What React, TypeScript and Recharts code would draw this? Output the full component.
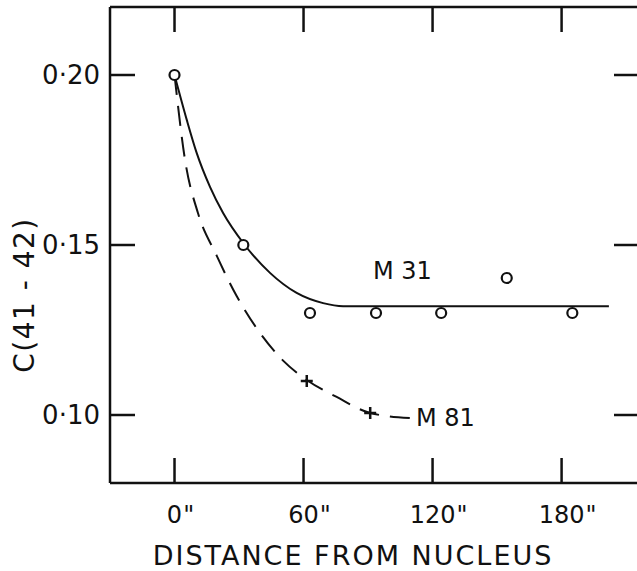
import { ComposedChart, Line, XAxis, YAxis, ReferenceDot } from "recharts"

const FONT = "'DejaVu Sans', sans-serif"
const INK = "#111"
const TICK_LEN = 25

// axis ticks
const xTicks = [0, 60, 120, 180]
const yTicks = [0.1, 0.15, 0.2]

// measured points, M31 (open circles)
const m31Dist = [0, 32, 63, 93.7, 124, 154.5, 185]
const m31Color = [0.2, 0.15, 0.13, 0.13, 0.13, 0.1403, 0.13]

// measured points, M81 (crosses)
const m81Dist = [61.5, 91]
const m81Color = [0.11, 0.1006]

// hand-drawn M31 curve (solid)
const m31FitDist = [0, 5.7, 10.3, 16.5, 22.6, 32.3, 44.4, 56.8, 69.1, 78.4, 202]
const m31FitColor = [0.2, 0.1868, 0.1771, 0.1671, 0.1594, 0.1503, 0.1418, 0.1359, 0.1329, 0.132, 0.132]

// hand-drawn M81 curve (dashed)
const m81FitDist = [0, 4.9, 10.9, 19.5, 28.9, 38.2, 50.5, 61.5, 75.4, 91, 109.5]
const m81FitColor = [0.2, 0.175, 0.1594, 0.147, 0.135, 0.1255, 0.116, 0.1103, 0.1053, 0.1006, 0.0991]

const zip = (xs: number[], ys: number[]) => xs.map((x, i) => ({ x, y: ys[i] }))

const m31Points = zip(m31Dist, m31Color)
const m81Points = zip(m81Dist, m81Color)
const m31Fit = zip(m31FitDist, m31FitColor)
const m81Fit = zip(m81FitDist, m81FitColor)

// ticks point inward on all four sides; the tick renderer draws the mark too
const BottomTick = ({ x, y, payload }: any) => {
  const digits = String(payload.value)
  const half = (digits.length * 0.636 * 24) / 2
  return (
    <g>
      <line x1={x} x2={x} y1={y} y2={y - TICK_LEN} stroke={INK} strokeWidth={2.5} />
      <g fontFamily={FONT} fontSize={24} fill={INK}>
        <text x={x} y={y + 40} textAnchor="middle">
          {digits}
        </text>
        <text x={x + half + 1} y={y + 40} textAnchor="start">
          "
        </text>
      </g>
    </g>
  )
}

const TopTick = ({ x, y }: any) => (
  <line x1={x} x2={x} y1={y} y2={y + TICK_LEN} stroke={INK} strokeWidth={2.5} />
)

const LeftTick = ({ x, y, payload }: any) => (
  <g>
    <line x1={x} x2={x + TICK_LEN} y1={y} y2={y} stroke={INK} strokeWidth={2.5} />
    <text x={x - 10} y={y} dy={9} textAnchor="end" fontFamily={FONT} fontSize={26} fill={INK}>
      {Number(payload.value).toFixed(2).replace(".", "·")}
    </text>
  </g>
)

const RightTick = ({ x, y }: any) => (
  <line x1={x} x2={x - TICK_LEN} y1={y} y2={y} stroke={INK} strokeWidth={2.5} />
)

const OpenCircle = ({ cx, cy, index }: any) =>
  cx == null ? null : (
    <circle key={index} cx={cx} cy={cy} r={5} fill="#fff" stroke={INK} strokeWidth={2.2} />
  )

const Cross = ({ cx, cy, index }: any) =>
  cx == null ? null : (
    <path
      key={index}
      d={`M${cx - 6},${cy}H${cx + 6}M${cx},${cy - 6}V${cy + 6}`}
      stroke={INK}
      strokeWidth={2.5}
    />
  )

const frame = { stroke: INK, strokeWidth: 2.5 }

export default function App() {
  return (
    <div
      style={{
        position: "absolute",
        left: 0,
        top: 0,
        width: 637,
        height: 571,
        overflow: "hidden",
        background: "#fff",
      }}
    >
      <ComposedChart width={660} height={571} margin={{ top: 0, right: 0, bottom: 0, left: 0 }}>
        <XAxis
          xAxisId="b"
          dataKey="x"
          type="number"
          domain={[-30, 216]}
          ticks={xTicks}
          orientation="bottom"
          height={88}
          tickSize={0}
          tickMargin={0}
          tick={<BottomTick />}
          tickLine={false}
          axisLine={frame}
          allowDataOverflow
          label={{
            content: () => (
              <text
                x={353}
                y={565}
                textAnchor="middle"
                fontFamily={FONT}
                fontSize={27}
                letterSpacing={2}
                fill={INK}
              >
                DISTANCE FROM NUCLEUS
              </text>
            ),
          }}
        />
        <XAxis
          xAxisId="t"
          dataKey="x"
          type="number"
          domain={[-30, 216]}
          ticks={xTicks}
          orientation="top"
          height={7}
          tickSize={0}
          tickMargin={0}
          tick={<TopTick />}
          tickLine={false}
          axisLine={frame}
          allowDataOverflow
        />
        <YAxis
          yAxisId="l"
          type="number"
          domain={[0.08, 0.22]}
          ticks={yTicks}
          orientation="left"
          width={110}
          tickSize={0}
          tickMargin={0}
          tick={<LeftTick />}
          tickLine={false}
          axisLine={frame}
          allowDataOverflow
          label={{
            content: () => (
              <text
                x={0}
                y={0}
                transform="translate(34,295) rotate(-90)"
                textAnchor="middle"
                fontFamily={FONT}
                fontSize={28}
                letterSpacing={1.5}
                fill={INK}
              >
                C(41 - 42)
              </text>
            ),
          }}
        />
        <YAxis
          yAxisId="r"
          type="number"
          domain={[0.08, 0.22]}
          ticks={yTicks}
          orientation="right"
          width={21}
          tickSize={0}
          tickMargin={0}
          tick={<RightTick />}
          tickLine={false}
          axisLine={frame}
          allowDataOverflow
        />

        <Line
          xAxisId="b"
          yAxisId="l"
          data={m31Fit}
          dataKey="y"
          type="monotone"
          stroke={INK}
          strokeWidth={2}
          dot={false}
          isAnimationActive={false}
        />
        <Line
          xAxisId="b"
          yAxisId="l"
          data={m81Fit}
          dataKey="y"
          type="monotone"
          stroke={INK}
          strokeWidth={2}
          strokeDasharray="20 11"
          dot={false}
          isAnimationActive={false}
        />
        <Line
          xAxisId="b"
          yAxisId="l"
          data={m31Points}
          dataKey="y"
          stroke="none"
          dot={<OpenCircle />}
          isAnimationActive={false}
        />
        <Line
          xAxisId="b"
          yAxisId="l"
          data={m81Points}
          dataKey="y"
          stroke="none"
          dot={<Cross />}
          isAnimationActive={false}
        />

        <ReferenceDot
          xAxisId="b"
          yAxisId="l"
          x={106}
          y={0.1424}
          r={0}
          label={{ value: "M 31", position: "center", fontFamily: FONT, fontSize: 24, fill: INK }}
        />
        <ReferenceDot
          xAxisId="b"
          yAxisId="l"
          x={126}
          y={0.0994}
          r={0}
          label={{ value: "M 81", position: "center", fontFamily: FONT, fontSize: 24, fill: INK }}
        />
      </ComposedChart>
    </div>
  )
}
